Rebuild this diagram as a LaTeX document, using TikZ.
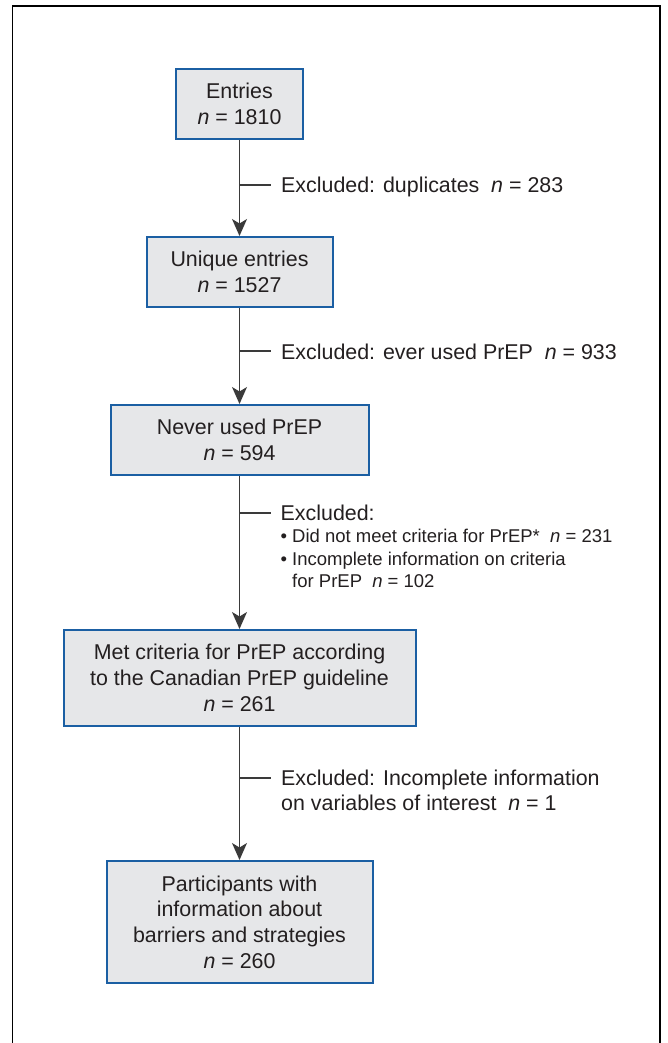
\documentclass[tikz,border=0pt]{standalone}
\usepackage{fontspec}
\setmainfont{Liberation Sans}
\usetikzlibrary{arrows.meta}
\definecolor{boxfill}{HTML}{E6E7E9}
\definecolor{boxline}{HTML}{1B5FA3}
\definecolor{txt}{HTML}{231F20}
\definecolor{conn}{HTML}{3A3A3A}
\begin{document}
\begin{tikzpicture}[x=1pt,y=-1pt,
  flowbox/.style={draw=boxline, fill=boxfill, line width=2pt, align=center, inner sep=0pt, text=txt, font=\fontsize{21.4}{25.7}\selectfont},
  flowarrow/.style={draw=conn, line width=1.3pt, -{Stealth[length=17pt,width=15pt,inset=4.5pt]}},
  branch/.style={draw=conn, line width=1.3pt},
  exnote/.style={anchor=base west, inner sep=0pt, text=txt, font=\fontsize{21.4}{25.7}\selectfont},
  frameline/.style={draw=black, line width=1.3pt}]
\useasboundingbox (0,0) rectangle (667,1043);
\draw[frameline] (12.8,1070) -- (12.8,6) -- (660,6) -- (660,1070);

\node[flowbox, minimum width=127pt, minimum height=70pt] (b1) at (239.5,104) {Entries\\\textit{n} = 1810};
\node[flowbox, minimum width=186pt, minimum height=70pt] (b2) at (239.5,272) {Unique entries\\\textit{n} = 1527};
\node[flowbox, minimum width=258pt, minimum height=70pt] (b3) at (239.5,440) {Never used PrEP\\\textit{n} = 594};
\node[flowbox, minimum width=352pt, minimum height=96pt] (b4) at (239.5,678) {Met criteria for PrEP according\\to the Canadian PrEP guideline\\\textit{n} = 261};
\node[flowbox, minimum width=266pt, minimum height=122pt] (b5) at (239.5,922) {Participants with\\information about\\barriers and strategies\\\textit{n} = 260};

\draw[flowarrow] (b1.south) -- (b2.north);
\draw[flowarrow] (b2.south) -- (b3.north);
\draw[flowarrow] (b3.south) -- (b4.north);
\draw[flowarrow] (b4.south) -- (b5.north);

\coordinate (j1) at (239.5,185);
\coordinate (e1) at (271,185);
\coordinate (j2) at (239.5,351);
\coordinate (e2) at (271,351);
\coordinate (j3) at (239.5,513);
\coordinate (e3) at (271,513);
\coordinate (j4) at (239.5,778);
\coordinate (e4) at (271,778);
\draw[branch] (j1) -- (e1);
\draw[branch] (j2) -- (e2);
\draw[branch] (j3) -- (e3);
\draw[branch] (j4) -- (e4);

\node[exnote] (t1) at (281,193) {Excluded: duplicates\hspace{0.55em}\textit{n} = 283};
\node[exnote] (t2) at (281,359) {Excluded: ever used PrEP\hspace{0.55em}\textit{n} = 933};
\node[exnote] (t3) at (280.5,520) {\fontsize{18.5}{22.5}\selectfont\begin{tabular}[t]{@{}l@{}l@{}}
\multicolumn{2}{@{}l@{}}{\fontsize{21.4}{25.7}\selectfont Excluded:}\\
\makebox[11.5pt][l]{•}& Did not meet criteria for PrEP*\hspace{0.55em}\textit{n} = 231\\
\makebox[11.5pt][l]{•}& Incomplete information on criteria\\
& for PrEP\hspace{0.55em}\textit{n} = 102
\end{tabular}};
\node[exnote] (t4) at (281,785) {\begin{tabular}[t]{@{}l@{}}
Excluded: Incomplete information\\
on variables of interest\hspace{0.55em}\textit{n} = 1
\end{tabular}};
\end{tikzpicture}
\end{document}
